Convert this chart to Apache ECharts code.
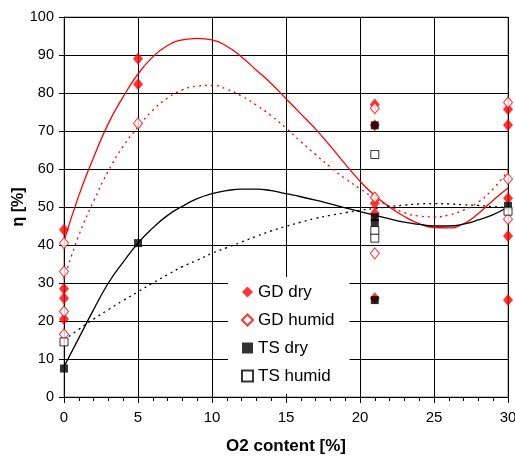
<!DOCTYPE html>
<html>
<head>
<meta charset="utf-8">
<script src="https://cdn.jsdelivr.net/npm/echarts@6/dist/echarts.min.js"></script>
<style>html,body{margin:0;padding:0;background:#fff}#c{width:515px;height:456px}</style>
</head>
<body>
<div id="c"></div>
<script>
// Measured points [O2 %, eta %]
var gdDry = [[0,44],[0,28.5],[0,26],[0,20.5],[5,89],[5,82.3],[21,77],[21,71.5],[21,51],[21,48.3],[21,26],[30,75.7],[30,71.6],[30,52.3],[30,42.4],[30,25.5]];
var gdHumid = [[0,40.5],[0,33],[0,22.5],[0,16.5],[5,72],[21,76],[21,52.5],[21,37.8],[30,77.5],[30,57.4],[30,46.8]];
var tsDry = [[0,7.5],[5,40.5],[21,71.5],[21,47.3],[21,45.8],[21,25.5],[30,50.3]];
var tsHumid = [[0,14.5],[21,63.8],[21,43.8],[21,41.8],[30,48.9]];

// Trend curves at each x
var curveX = [0,1,2,3,4,5,6,7,8,9,10,11,12,13,14,15,16,17,18,19,20,21,22,23,24,25,26,27,28,29,30];
var gdDryFit = [41,53,63,72,79,85,89.5,92.5,94,94.4,94,92.3,89.5,86,82.5,78.5,74.5,70.5,66,61.3,56.8,53,50,47.5,45.6,44.6,44.5,45.6,48.3,51.8,55];
var gdHumidFit = [31,42.5,51.5,59.5,66,71,75.5,78.7,80.8,81.8,82,81,79.2,76.8,74,70.8,67.2,63.8,60.5,57.5,54.8,52.3,50.2,48.5,47.6,47.4,47.9,49.2,51.3,54.8,59.5];
var tsDryFit = [8,15.5,23,30,35.5,40.5,44.5,47.8,50.2,52.2,53.5,54.3,54.7,54.7,54.3,53.5,52.7,51.8,50.8,49.8,48.8,47.8,46.9,46,45.4,45,45,45.5,46.6,48,50];
var tsHumidFit = [15,17.8,20.5,23,25.4,27.7,30,32.2,34.3,36,37.8,39.3,40.8,42.3,43.7,44.9,46,47,47.8,48.5,49.1,49.6,50.1,50.5,50.8,50.9,50.8,50.6,50.4,50.1,49.8];

var xTicks = {min:0, max:30, step:5};
var yTicks = {min:0, max:100, step:10};

function pairs(xs, ys){ return xs.map(function(x,i){ return [x, ys[i]]; }); }

var FONT = 'Liberation Sans, Arial, sans-serif';
var chart = echarts.init(document.getElementById('c'), null, {renderer:'canvas'});

function fit(name, ys, color, dotted){
  return {type:'line', name:name, data:pairs(curveX, ys), smooth:true, symbol:'none', silent:true, z:2,
    lineStyle:{color:color, width:1.3, type: dotted ? [2,4] : 'solid'}};
}

chart.setOption({
  animation:false,
  backgroundColor:'#fff',
  grid:{left:64, right:7, top:17, bottom:59, show:true, borderColor:'#808080', borderWidth:1, backgroundColor:'transparent',
    containLabel:false, outerBoundsMode:'none'},
  xAxis:{type:'value', min:xTicks.min, max:xTicks.max, interval:xTicks.step,
    name:'O2 content [%]', nameLocation:'middle', nameGap:41, nameMoveOverlap:false,
    nameTextStyle:{fontFamily:FONT, fontSize:17, fontWeight:'bold', color:'#000'},
    axisLine:{show:true, onZero:false, lineStyle:{color:'#000', width:1}},
    axisTick:{show:true, inside:false, length:6, lineStyle:{color:'#000'}},
    minorTick:{show:true, splitNumber:5, length:4, lineStyle:{color:'#000'}},
    axisLabel:{fontFamily:FONT, fontSize:15, color:'#000', margin:13},
    splitLine:{show:true, lineStyle:{color:'#000', width:1}}},
  yAxis:{type:'value', min:yTicks.min, max:yTicks.max, interval:yTicks.step,
    name:'η [%]', nameLocation:'middle', nameGap:37, nameMoveOverlap:false,
    nameTextStyle:{fontFamily:FONT, fontSize:16, fontWeight:'bold', color:'#000'},
    axisLine:{show:true, onZero:false, lineStyle:{color:'#000', width:1}},
    axisTick:{show:true, inside:false, length:5, lineStyle:{color:'#000'}},
    axisLabel:{fontFamily:FONT, fontSize:14.5, color:'#000', margin:10},
    splitLine:{show:true, lineStyle:{color:'#000', width:1}}},
  legend:{show:true, orient:'vertical', left:228, top:277, backgroundColor:'#fff',
    padding:[5,15,8,13], itemGap:8, itemWidth:11, itemHeight:11,
    textStyle:{fontFamily:FONT, fontSize:17, color:'#000', lineHeight:20},
    data:['GD dry','GD humid','TS dry','TS humid']},
  series:[
    fit('GD dry fit', gdDryFit, '#ff0000', false),
    fit('GD humid fit', gdHumidFit, '#ff0000', true),
    fit('TS dry fit', tsDryFit, '#000000', false),
    fit('TS humid fit', tsHumidFit, '#000000', true),
    {type:'scatter', name:'GD dry', data:gdDry, symbol:'diamond', symbolSize:[10,12], z:3,
      itemStyle:{color:'#ff0000', borderColor:'#ff0000', borderWidth:0}},
    {type:'scatter', name:'GD humid', data:gdHumid, symbol:'diamond', symbolSize:[9,11], z:3,
      itemStyle:{color:'#ffffff', borderColor:'#ff0000', borderWidth:1}},
    {type:'scatter', name:'TS dry', data:tsDry, symbol:'rect', symbolSize:8, z:4,
      itemStyle:{color:'#000000', borderWidth:0}},
    {type:'scatter', name:'TS humid', data:tsHumid, symbol:'rect', symbolSize:8, z:4,
      itemStyle:{color:'#ffffff', borderColor:'#000000', borderWidth:1}}
  ]
});
</script>
</body>
</html>
